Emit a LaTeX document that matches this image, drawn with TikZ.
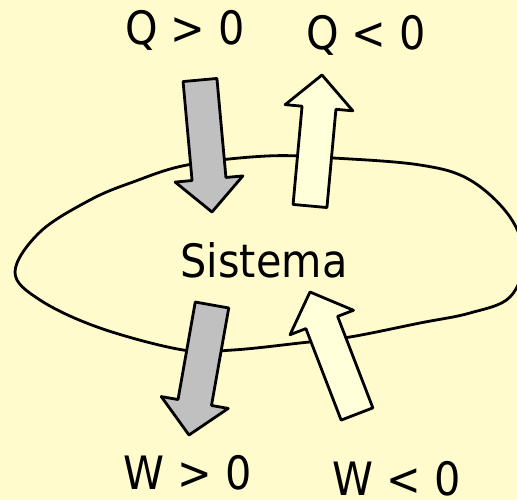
\documentclass[tikz,border=0pt]{standalone}
\usepackage{fontspec}
\setmainfont{DejaVu Sans}[FakeStretch=0.9]
\usetikzlibrary{calc}
\definecolor{bg}{HTML}{FFFBCC}
\definecolor{lightfill}{HTML}{FFFFDA}
\definecolor{grayfill}{HTML}{C0C0C0}
\tikzset{
  lbl/.style={font=\fontsize{46}{50}\selectfont, inner sep=0pt, anchor=base},
  outline/.style={draw=black, line width=2.8pt, line join=round},
}
\newcommand{\blockarrow}[3]{%
  \coordinate (ba-a) at #1;
  \coordinate (ba-b) at #2;
  \coordinate (ba-h) at ($(ba-a)!0.75!(ba-b)$);
  \filldraw[outline, fill=#3]
    ($(ba-a)!17pt!90:(ba-b)$) -- ($(ba-h)!17pt!90:(ba-b)$) -- ($(ba-h)!34pt!90:(ba-b)$)
    -- (ba-b) -- ($(ba-h)!34pt!-90:(ba-b)$) -- ($(ba-h)!17pt!-90:(ba-b)$)
    -- ($(ba-a)!17pt!-90:(ba-b)$) -- cycle;
}
\begin{document}
\begin{tikzpicture}[x=1pt,y=-1pt]
  \fill[bg] (0,0) rectangle (517,500);
  \useasboundingbox (0,0) rectangle (517,500);
  \begin{scope}
    \clip (0,0) rectangle (517,500);
    \draw[line width=2.8pt] plot[smooth cycle, tension=0.6] coordinates {
      (15,272) (40,232) (90,200) (133,182) (187,165) (267,156) (333,158)
      (420,165) (470,180) (510,217) (524,258) (510,297) (470,313) (420,323)
      (350,337) (300,343) (233,350) (183,350) (100,328) (40,300)};
    \blockarrow{(200,80)}{(212,212)}{grayfill}
    \blockarrow{(310,206)}{(322,75)}{lightfill}
    \blockarrow{(212,305)}{(189,435)}{grayfill}
    \blockarrow{(357,414)}{(310,292)}{lightfill}
  \end{scope}
  \node[lbl] (qpos) at (185,45) {Q > 0};
  \node[lbl] (qneg) at (366,50) {Q < 0};
  \node[lbl] (sys) at (264,277) {Sistema};
  \node[lbl] (wpos) at (188,489) {W > 0};
  \node[lbl] (wneg) at (397,495) {W < 0};
\end{tikzpicture}
\end{document}
